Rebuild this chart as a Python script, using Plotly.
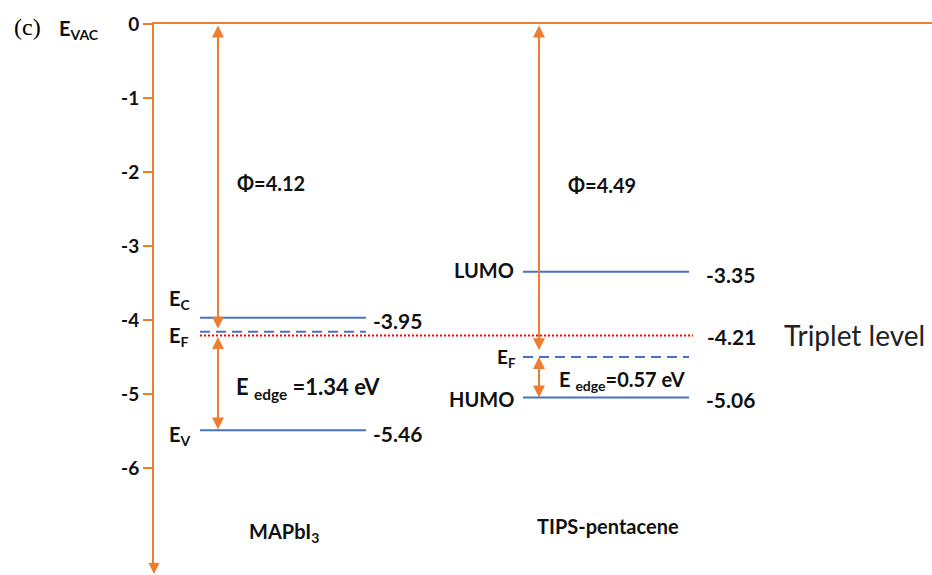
import plotly.graph_objects as go

# ---------------- data ----------------
materials = ["MAPbI<sub>3</sub>", "TIPS-pentacene"]

mapbi3_level_names = ["E<sub>C</sub>", "E<sub>F</sub>", "E<sub>V</sub>"]
mapbi3_level_values = [-3.97, -4.16, -5.49]
mapbi3_level_labels = ["-3.95", "", "-5.46"]

tips_level_names = ["LUMO", "E<sub>F</sub>", "HUMO"]
tips_level_values = [-3.35, -4.50, -5.05]
tips_level_labels = ["-3.35", "", "-5.06"]

triplet_value = -4.21
triplet_label = "-4.21"
triplet_name = "Triplet level"

work_functions = [4.12, 4.49]
phi_arrow_ends = [-4.12, -4.41]
edge_energies = [1.34, 0.57]
edge_arrow_spans = [(-4.21, -5.48), (-4.48, -5.05)]

y_tick_values = [0, -1, -2, -3, -4, -5, -6]
y_tick_labels = ["0", "-1", "-2", "-3", "-4", "-5", "-6"]

# ---------------- layout constants ----------------
ORANGE = "#ED7D31"
BLUE = "#4472C4"
RED = "#FF0000"
TXT = "#111111"
FONT = "Lato"

level_dash = ["solid", "10px,6px", "solid"]
col_mapbi3 = dict(x0=46, x1=212, arrow=64)
col_tips = dict(x0=369, x1=535, arrow=385)
triplet_span = (46, 539)
Y_MIN = -7.34
PLOT_W = 778

fig = go.Figure()

def add_level(x0, x1, y, dash, color=BLUE, width=2):
    fig.add_trace(go.Scatter(x=[x0, x1], y=[y, y], mode="lines",
                             line=dict(color=color, width=width, dash=dash),
                             hoverinfo="skip", showlegend=False))

for v, d in zip(mapbi3_level_values, level_dash):
    add_level(col_mapbi3["x0"], col_mapbi3["x1"], v, d)
for v, d in zip(tips_level_values, level_dash):
    add_level(col_tips["x0"], col_tips["x1"], v, d)
add_level(triplet_span[0], triplet_span[1], triplet_value, "2px,2px", color=RED, width=2)

ann = []

# axis arrow head at the bottom
ann.append(dict(x=0, y=-0.015, xref="paper", yref="paper", ax=0, ay=-14,
                text="", showarrow=True, arrowhead=2, arrowsize=1.1,
                arrowwidth=2, arrowcolor=ORANGE, standoff=0))

def arrow(x, y_start, y_end):
    ann.append(dict(x=x, y=y_end, ax=x, ay=y_start, xref="x", yref="y",
                    axref="x", ayref="y", text="", showarrow=True,
                    arrowhead=2, startarrowhead=2, arrowside="end+start",
                    arrowsize=1.2, startarrowsize=1.2, arrowwidth=2,
                    arrowcolor=ORANGE, standoff=0, startstandoff=0))

arrow(col_mapbi3["arrow"], 0, phi_arrow_ends[0])
arrow(col_mapbi3["arrow"], edge_arrow_spans[0][0], edge_arrow_spans[0][1])
arrow(col_tips["arrow"], 0, phi_arrow_ends[1])
arrow(col_tips["arrow"], edge_arrow_spans[1][0], edge_arrow_spans[1][1])

def text(x, y, s, size=19, anchor="left", bold=True, color=TXT, family=FONT,
         xref="x", yref="y"):
    ann.append(dict(x=x, y=y, xref=xref, yref=yref, text=(f"<b>{s}</b>" if bold else s),
                    showarrow=False, xanchor=anchor, yanchor="middle",
                    font=dict(family=family, size=size, color=color)))

# MAPbI3 level names & values
name_y_off = [0.24, -0.07, -0.07]
for n, v, off in zip(mapbi3_level_names, mapbi3_level_values, name_y_off):
    text(13, v + off, n, size=20)
for lab, v in zip(mapbi3_level_labels, mapbi3_level_values):
    if lab:
        text(col_mapbi3["x1"] + 5, v - 0.04, lab, size=21)

# TIPS level names & values
text(col_tips["x0"] - 7, tips_level_values[0] + 0.02, tips_level_names[0], size=20, anchor="right")
text(col_tips["x0"] - 28, tips_level_values[1] - 0.01, tips_level_names[1], size=19)
text(col_tips["x0"] - 7, tips_level_values[2] - 0.02, tips_level_names[2], size=20, anchor="right")
for lab, v in zip(tips_level_labels, tips_level_values):
    if lab:
        text(col_tips["x1"] + 15, v - 0.03, lab, size=21)

text(triplet_span[1] + 12, triplet_value - 0.01, triplet_label, size=21)
text(628, triplet_value + 0.0, triplet_name, size=28, bold=False, color="#222222")

# work functions
text(col_mapbi3["arrow"] + 17, -2.15, f"Φ={work_functions[0]:.2f}", size=20)
text(col_tips["arrow"] + 27, -2.18, f"Φ={work_functions[1]:.2f}", size=20)

# edge energies
text(col_mapbi3["arrow"] + 16, -4.92,
     f"E <sub>edge</sub> ={edge_energies[0]:.2f} eV", size=22)
text(col_tips["arrow"] + 18, -4.82,
     f"E <sub>edge</sub>={edge_energies[1]:.2f} eV", size=20)

# material names
text(93, -6.88, materials[0], size=20)
text(381, -6.78, materials[1], size=20)

# panel letter and E_VAC (outside plot area -> paper refs)
PLOT_H = 543
text((12 - 154) / PLOT_W, 1.0 - (27 - 24) / PLOT_H, "(c)", size=24, bold=False,
     family="Liberation Serif", xref="paper", yref="paper", color="#000000")
text((57 - 154) / PLOT_W, 1.0 - (30 - 24) / PLOT_H, "E<sub>VAC</sub>", size=20,
     xref="paper", yref="paper")

fig.update_layout(
    width=932, height=575,
    margin=dict(l=154, r=0, t=24, b=8),
    paper_bgcolor="white", plot_bgcolor="white",
    annotations=ann,
    xaxis=dict(range=[0, PLOT_W], side="top", showline=True, linecolor=ORANGE,
               linewidth=2, showticklabels=False, ticks="", showgrid=False,
               zeroline=False, fixedrange=True),
    yaxis=dict(range=[Y_MIN, 0], showline=True, linecolor=ORANGE, linewidth=2,
               ticks="outside", ticklen=9, tickwidth=2, tickcolor=ORANGE,
               tickvals=y_tick_values,
               ticktext=[f"<b>{t}</b>" for t in y_tick_labels],
               tickfont=dict(family=FONT, size=19, color=TXT),
               ticklabelstandoff=0, showgrid=False, zeroline=False,
               fixedrange=True),
)

fig.write_html("out.html")
